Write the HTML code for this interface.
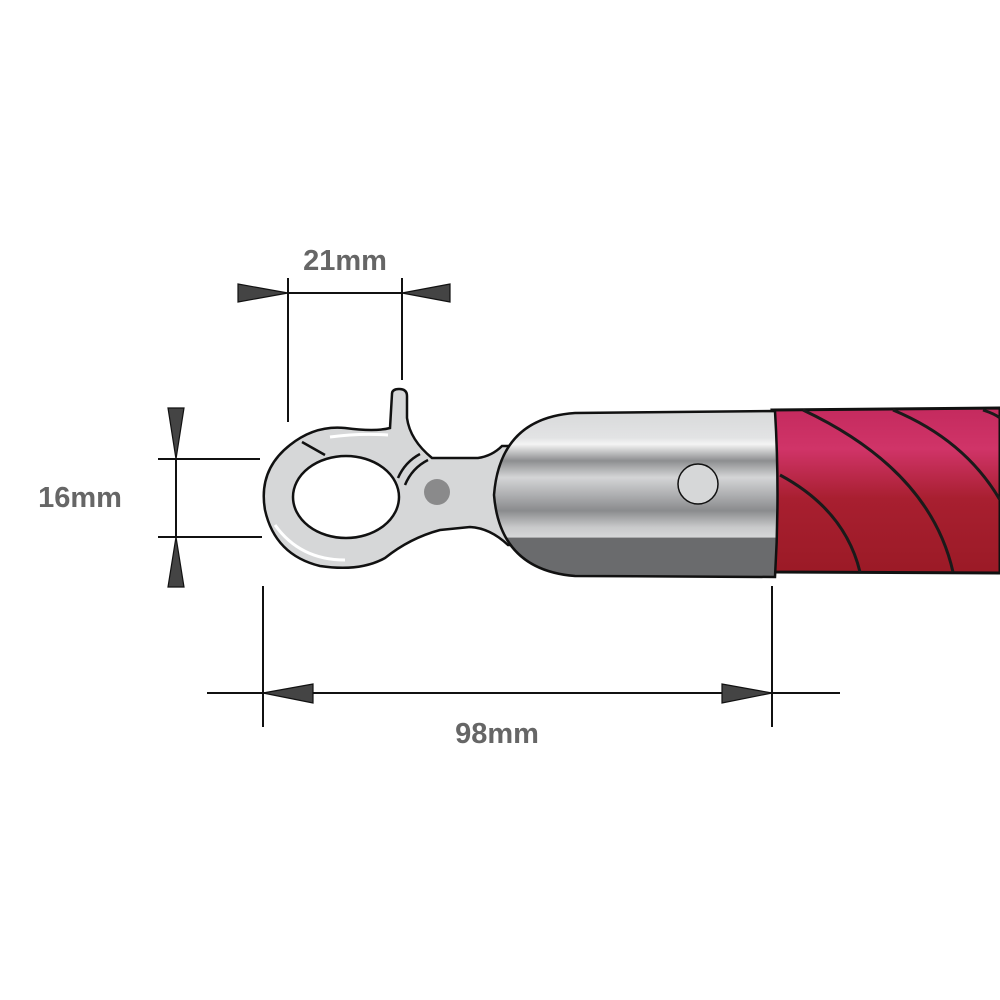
<!DOCTYPE html>
<html><head><meta charset="utf-8"><style>
html,body{margin:0;padding:0;background:#fff}
svg{display:block}
text{font-family:"Liberation Sans",sans-serif;font-weight:bold;fill:#666;font-size:29px}
</style></head><body>
<svg width="1000" height="1000" viewBox="0 0 1000 1000" xmlns="http://www.w3.org/2000/svg">
<defs>
<linearGradient id="cap" x1="0" y1="0" x2="0" y2="1">
<stop offset="0" stop-color="#d8d9da"/>
<stop offset="0.16" stop-color="#e2e3e4"/>
<stop offset="0.2" stop-color="#f4f4f4"/>
<stop offset="0.3" stop-color="#8d8e90"/>
<stop offset="0.4" stop-color="#d4d5d6"/>
<stop offset="0.5" stop-color="#b0b1b3"/>
<stop offset="0.6" stop-color="#8a8b8d"/>
<stop offset="0.7" stop-color="#c8c9ca"/>
<stop offset="0.76" stop-color="#d6d7d8"/>
<stop offset="0.765" stop-color="#6a6b6d"/>
<stop offset="1" stop-color="#6a6b6d"/>
</linearGradient>
<linearGradient id="rope" x1="0" y1="0" x2="0" y2="1">
<stop offset="0" stop-color="#c42a5e"/>
<stop offset="0.25" stop-color="#d03468"/>
<stop offset="0.55" stop-color="#a81f30"/>
<stop offset="1" stop-color="#9b1a26"/>
</linearGradient>
</defs>

<!-- rope -->
<path d="M772 410 L1000 408 L1000 573 L772 572 Q780 490 772 410 Z" fill="url(#rope)" stroke="#111" stroke-width="3"/>
<g fill="none" stroke="#1a1a1a" stroke-width="3">
<path d="M780 475 Q845 510 860 572"/>
<path d="M803 410 Q930 470 953 572"/>
<path d="M893 410 Q965 440 1000 500"/>
<path d="M983 410 Q995 414 1000 418"/>
</g>

<!-- eye / hook -->
<path d="M392 394 Q392 389 399 389 Q407 389 407 396 L407 418 Q410 440 432 458 L478 458 Q492 456 502 446 L530 446 L530 545 L508 545 Q490 528 470 527 L440 530 Q410 538 385 558 Q360 572 320 566 Q275 555 265 510 Q258 470 290 445 Q315 425 345 428 Q375 432 390 428 Z" fill="#d6d7d8" stroke="#111" stroke-width="2.5"/>
<ellipse cx="346" cy="497" rx="53" ry="41" fill="#fff" stroke="#111" stroke-width="2.5"/>
<path d="M275 525 Q300 560 345 560" fill="none" stroke="#fff" stroke-width="3"/>
<path d="M330 437 Q360 433 388 435" fill="none" stroke="#fff" stroke-width="3"/>
<g stroke="#111" stroke-width="2.5" fill="none">
<path d="M302 442 L325 455"/>
<path d="M398 478 Q405 462 420 454"/>
<path d="M405 485 Q412 468 428 460"/>
</g>
<circle cx="437" cy="492" r="13" fill="#8a8a8b"/>

<!-- cap -->
<path d="M575 413 L775 411 Q780 494 775 577 L575 576 Q500 570 494 495 Q500 418 575 413 Z" fill="url(#cap)" stroke="#111" stroke-width="2.5"/>
<circle cx="698" cy="484" r="20" fill="#d6d7d8" stroke="#111" stroke-width="1.5"/>

<!-- dimension lines -->
<g stroke="#111" stroke-width="2" fill="none">
<line x1="288" y1="293" x2="402" y2="293"/>
<line x1="288" y1="278" x2="288" y2="422"/>
<line x1="402" y1="278" x2="402" y2="380"/>
<line x1="176" y1="460" x2="176" y2="537"/>
<line x1="158" y1="459" x2="260" y2="459"/>
<line x1="158" y1="537" x2="262" y2="537"/>
<line x1="207" y1="693" x2="840" y2="693"/>
<line x1="263" y1="586" x2="263" y2="727"/>
<line x1="772" y1="586" x2="772" y2="727"/>
</g>
<g fill="#444" stroke="#111" stroke-width="1.2">
<polygon points="238,284 288,293 238,302"/>
<polygon points="450,284 402,293 450,302"/>
<polygon points="168,408 176,459 184,408"/>
<polygon points="168,587 176,537 184,587"/>
<polygon points="313,684 263,693 313,703"/>
<polygon points="722,684 772,693 722,703"/>
</g>

<text x="345" y="270" text-anchor="middle">21mm</text>
<text x="80" y="507" text-anchor="middle">16mm</text>
<text x="497" y="743" text-anchor="middle">98mm</text>
</svg>
</body></html>
